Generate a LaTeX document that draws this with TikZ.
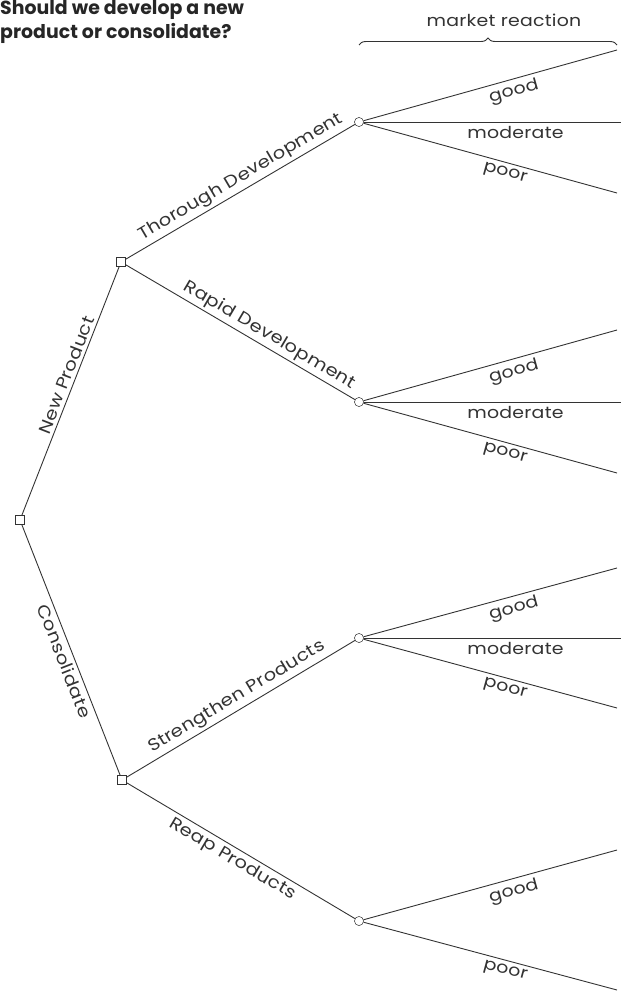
\documentclass[tikz,border=0pt]{standalone}
\usepackage{fontspec}
\setmainfont{Poppins}
\newfontfamily\widefont[FakeStretch=1.15,LetterSpace=1.5]{Poppins}
\usetikzlibrary{decorations.pathreplacing}
\tikzset{
  dec/.style={rectangle,draw=black!80,fill=white,minimum size=9bp,inner sep=0pt},
  chc/.style={circle,draw=black!80,fill=white,minimum size=9bp,inner sep=0pt},
  br/.style={draw=black!80,line width=0.9bp},
  lbl/.style={font=\widefont\fontsize{17}{19}\selectfont,text=black!80,sloped,inner sep=3bp},
  olbl/.style={font=\widefont\fontsize{16.5}{19}\selectfont,text=black!80,sloped,inner sep=4bp}
}
\begin{document}
\begin{tikzpicture}[x=1bp,y=-1bp]
\useasboundingbox (0,0) rectangle (621,994);
% title
\node[anchor=north west,align=left,inner sep=0pt,text=black!85,
  font=\fontsize{19}{24}\selectfont\bfseries] (t) at (0,0)
  {Should we develop a new\\product or consolidate?};
% decision and chance nodes
\coordinate (b1) at (359,45);
\coordinate (b2) at (617,45);
\node[dec] (r) at (20,520) {};
\node[dec] (d1) at (121,262) {};
\node[dec] (d2) at (122,780) {};
\node[chc] (c1) at (359,122) {};
\node[chc] (c2) at (359,402) {};
\node[chc] (c3) at (359,638) {};
\node[chc] (c4) at (359,921) {};
% open ends
\coordinate (g1) at (617,50);  \coordinate (m1) at (621,122); \coordinate (p1) at (617,193);
\coordinate (g2) at (617,330); \coordinate (m2) at (621,402); \coordinate (p2) at (617,473);
\coordinate (g3) at (617,568); \coordinate (m3) at (621,638); \coordinate (p3) at (617,708);
\coordinate (g4) at (617,850); \coordinate (p4) at (617,990);
% brace
\draw[br,decorate,decoration={brace,amplitude=7bp}] (b1) -- (b2);
\node[olbl] (mr) at (504,20) {market reaction};
% alternatives
\draw[br] (r) -- node[lbl,above,pos=0.55] {New Product} (d1);
\draw[br] (r) -- node[lbl,below,pos=0.53] {Consolidate} (d2);
\draw[br] (d1) -- node[lbl,above,pos=0.53] {Thorough Development} (c1);
\draw[br] (d1) -- node[lbl,above,pos=0.6] {Rapid Development} (c2);
\draw[br] (d2) -- node[lbl,above,pos=0.51] {Strengthen Products} (c3);
\draw[br] (d2) -- node[lbl,below,pos=0.49] {Reap Products} (c4);
% outcomes
\foreach \i in {1,2,3} {
  \draw[br] (c\i) -- node[olbl,below,pos=0.58] {good} (g\i);
  \draw[br] (c\i) -- node[olbl,below,pos=0.59] {moderate} (m\i);
  \draw[br] (c\i) -- node[olbl,below,pos=0.57] {poor} (p\i);
}
\draw[br] (c4) -- node[olbl,below,pos=0.58] {good} (g4);
\draw[br] (c4) -- node[olbl,below,pos=0.57] {poor} (p4);
% redraw nodes on top
\foreach \n in {r,d1,d2} \node[dec] at (\n) {};
\foreach \n in {c1,c2,c3,c4} \node[chc] at (\n) {};
\end{tikzpicture}
\end{document}
